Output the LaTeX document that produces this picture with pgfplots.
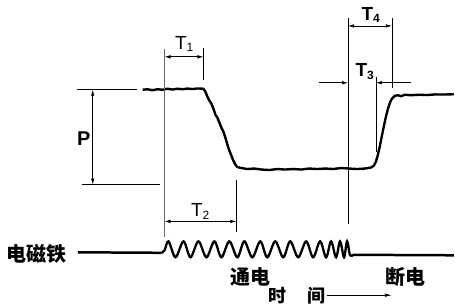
\documentclass[border=0pt]{standalone}
\usepackage{fontspec}
\setmainfont{Liberation Sans}
\newfontfamily\cjk{Noto Sans CJK SC}
\usepackage{pgfplots}
\pgfplotsset{compat=1.18}
\usetikzlibrary{arrows.meta}
\begin{document}
\begin{tikzpicture}
\begin{axis}[width=455pt,height=305pt,scale only axis,
  xmin=0,xmax=455,ymin=0,ymax=305,y dir=reverse,
  axis lines=none,clip=false,
  ann/.style={black,line width=0.7pt},
  arr/.style={ann,{Latex[length=6pt,width=3.5pt]}-{Latex[length=6pt,width=3.5pt]}}]
\path (axis cs:0,0) rectangle (axis cs:455,305);
% pressure curve
\addplot[black,line width=2.4pt,line join=round] coordinates {
(143,90)(148,89.5)(153,90.5)(158,89.5)(163,90)(168,89)(173,89.8)(178,89)(183,89.5)(188,88.8)(193,89.3)(198,88.7)(204,89)
(206,92)(208,97)(210,101)(212,104)(214,109)(216,115)(218,118)(220,123)(222,128)(224,132)(226,138)(228,145)(230,151)(232,156)(234,161)(236,165)(238,167.5)
(242,168.5)(248,169.5)(255,169)(262,170)(270,170.5)(278,169.5)(286,170)(294,169.5)(302,170)(310,169)(318,169.5)(326,169)(334,169.5)(342,168.5)(350,169)(358,169.5)(366,169)(372,168)
(375,166)(377,162)(379,155)(381,146)(383,136)(385,126)(387,117)(389,109)(391,103)(393,99)(396,96)(399,95.5)(402,96.5)(406,95)(412,95.5)(420,95)(428,95.3)(436,94.7)(445,94.8)(455,94.5)};
% electromagnet signal
\addplot[black,line width=2.5pt] coordinates {(78,253)(162,253.5)};
\addplot[black,line width=2.3pt,smooth,tension=0.55] coordinates {
(162,253.5)(165,251)(169,242)(176,258)(184,242)(191,258)(199,242)(207,258)(215,242)(222,258)(230,242)(238,258)(245,242)(253,258)(261,242)(268,258)(276,242)(284,258)(291,242)(299,258)(307,242)(314,258)(321,242)(327,258)(332,242)(337,258)(341,242)(345,258)(348,242)(351,256)(354,255.5)};
\addplot[black,line width=2.5pt] coordinates {(354,255.5)(455,256)};
% reference lines
\addplot[gray!80!black,line width=0.8pt] coordinates {(165,49)(165,238)};
\addplot[ann] coordinates {(77,90)(137,90)};
\addplot[ann] coordinates {(82,185)(160,185)};
\addplot[arr] coordinates {(93,90)(93,185)};
\addplot[ann] coordinates {(204,48)(204,80)};
\addplot[arr] coordinates {(165,57)(204,57)};
\addplot[ann] coordinates {(237,180)(237,233)};
\addplot[arr] coordinates {(165,222)(237,222)};
\addplot[ann] coordinates {(349,18)(349,225)};
\addplot[ann] coordinates {(393,18)(393,88)};
\addplot[arr] coordinates {(349,26)(393,26)};
\addplot[ann] coordinates {(377,77)(377,152)};
\addplot[ann,-{Latex[length=6pt,width=3.5pt]}] coordinates {(320,83)(349,83)};
\addplot[ann,-{Latex[length=6pt,width=3.5pt]}] coordinates {(412,83)(377,83)};
\addplot[ann,-{Latex[length=7pt,width=3.5pt]}] coordinates {(328,296)(393,296)};
% labels
\node[font=\fontsize{20}{20}\selectfont\bfseries] at (axis cs:84,139) {P};
\node[font=\fontsize{19}{19}\selectfont] at (axis cs:185,44) {T\textsubscript{\fontsize{12}{12}\selectfont 1}};
\node[font=\fontsize{19}{19}\selectfont] at (axis cs:201,212) {T\textsubscript{\fontsize{12}{12}\selectfont 2}};
\node[font=\fontsize{19}{19}\selectfont\bfseries] at (axis cs:366,72) {T\textsubscript{\fontsize{12}{12}\selectfont 3}};
\node[font=\fontsize{19}{19}\selectfont\bfseries] at (axis cs:372,15) {T\textsubscript{\fontsize{12}{12}\selectfont 4}};
\node[font=\fontsize{20}{20}\selectfont\cjk\bfseries] at (axis cs:37,255) {电磁铁};
\node[font=\fontsize{20}{20}\selectfont\cjk\bfseries] at (axis cs:251,278) {通电};
\node[font=\fontsize{20}{20}\selectfont\cjk\bfseries] at (axis cs:407,278) {断电};
\node[font=\fontsize{18}{18}\selectfont\cjk\bfseries] at (axis cs:298,297) {时\hspace{1.2em}间};
\end{axis}
\end{tikzpicture}
\end{document}
